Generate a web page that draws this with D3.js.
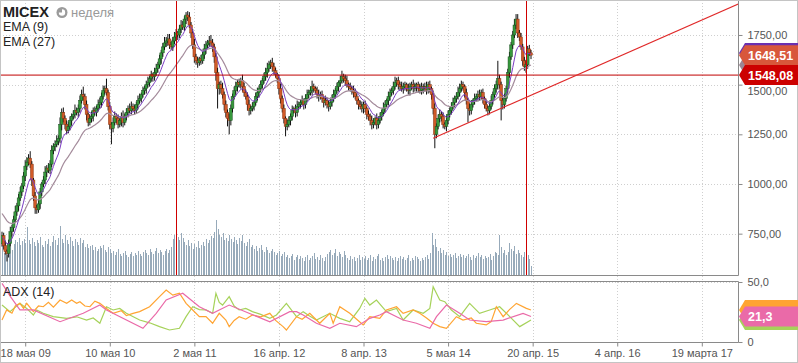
<!DOCTYPE html>
<html>
<head>
<meta charset="utf-8">
<script src="https://cdn.jsdelivr.net/npm/d3@7/dist/d3.min.js"></script>
<style>
  body { margin: 0; background: #fff; }
  svg { display: block; font-family: "Liberation Sans", Arial, sans-serif; }
</style>
</head>
<body>
<svg id="chart" width="798" height="363"></svg>
<script>
// weekly closes, MICEX (index 0 = first visible week)
var closes = [
  740,690,660,650,700,760,780,820,860,890,930,960,990,1040,1090,1110,1130,1100,1020,940,
  880,870,900,960,1000,1020,1060,1080,1070,1100,1170,1190,1200,1215,1230,1300,1360,1330,1300,1270,
  1290,1320,1340,1350,1370,1360,1380,1420,1450,1440,1400,1350,1310,1330,1340,1370,1360,1380,1400,1410,
  1440,1470,1480,1460,1390,1300,1280,1310,1340,1330,1300,1320,1340,1310,1340,1360,1380,1370,1390,1380,
  1370,1400,1420,1430,1450,1470,1480,1500,1510,1530,1550,1540,1560,1580,1600,1630,1660,1690,1710,1720,
  1730,1700,1690,1720,1740,1760,1750,1780,1800,1790,1830,1850,1840,1800,1760,1700,1640,1620,1610,1630,
  1620,1650,1680,1700,1710,1720,1710,1690,1640,1560,1480,1500,1480,1450,1400,1360,1330,1320,1380,1440,
  1470,1490,1510,1500,1520,1490,1460,1440,1400,1370,1380,1390,1410,1440,1460,1480,1500,1520,1540,1560,
  1580,1600,1610,1590,1570,1550,1530,1480,1430,1380,1330,1290,1300,1320,1340,1370,1380,1360,1390,1400,
  1410,1420,1400,1430,1450,1460,1470,1490,1480,1470,1450,1440,1450,1430,1410,1420,1400,1390,1410,1430,
  1450,1470,1490,1510,1520,1540,1530,1520,1500,1490,1480,1470,1460,1440,1420,1400,1390,1380,1400,1380,
  1350,1340,1320,1300,1310,1330,1300,1320,1340,1360,1380,1400,1420,1440,1460,1470,1490,1510,1520,1500,
  1490,1480,1490,1500,1480,1470,1490,1500,1480,1490,1500,1480,1470,1490,1480,1490,1470,1500,1480,1450,
  1380,1250,1290,1330,1350,1340,1300,1290,1320,1350,1370,1390,1410,1430,1440,1460,1480,1500,1490,1460,
  1420,1380,1370,1400,1420,1430,1440,1450,1440,1460,1430,1400,1380,1370,1390,1420,1450,1480,1500,1530,
  1500,1420,1400,1430,1480,1560,1640,1700,1750,1800,1830,1760,1740,1690,1620,1590,1600,1680,1660,1648.51
];
var firstOpen = 700;

// wick lengths above / below the body (points)
var wickUp = [
  20,15,25,10,20,25,15,20,30,15,20,25,15,20,30,25,20,35,15,10,
  20,15,25,20,10,20,30,15,25,20,25,15,20,30,15,35,20,25,15,20,
  25,20,15,20,30,15,20,25,25,40,15,20,10,20,25,15,20,15,25,25,
  20,25,15,50,15,20,10,25,25,15,20,10,20,30,15,20,15,25,25,15,
  20,15,25,25,10,20,15,20,30,15,20,10,25,25,15,20,15,20,30,20,
  25,25,15,20,25,20,10,20,25,20,15,15,20,25,15,20,30,15,20,10,
  20,15,25,20,15,25,30,20,15,20,25,15,20,30,15,20,15,25,20,15,
  20,25,15,20,15,30,20,15,20,25,15,20,10,20,25,15,20,15,20,25,
  30,20,15,25,20,15,10,20,25,15,20,10,25,20,15,25,10,20,30,15,
  15,25,10,20,25,15,20,30,15,10,20,25,15,20,10,25,15,20,25,20,
  25,15,20,10,25,30,15,20,25,10,20,15,25,20,15,10,20,25,15,20,
  10,20,15,25,20,10,25,15,20,15,30,20,10,25,20,15,25,30,15,20,
  15,25,20,15,10,25,20,15,25,20,10,15,25,20,15,20,25,15,20,10,
  20,25,15,20,25,15,20,10,25,20,15,20,25,15,20,30,25,20,15,10,
  20,15,25,20,10,25,15,20,25,15,20,10,25,15,20,25,15,20,20,90,
  20,15,20,25,15,20,25,15,20,30,25,25,15,20,15,20,25,15,20,15
];
var wickDn = [
  15,20,15,40,20,15,25,20,15,20,25,15,20,15,25,20,15,20,30,25,
  30,20,15,25,20,15,20,25,15,20,15,20,25,15,20,25,30,20,25,20,
  15,20,25,15,20,15,25,20,15,20,25,30,20,15,20,25,15,20,15,20,
  25,15,20,15,20,25,80,20,15,25,20,15,30,25,15,20,25,15,20,15,
  20,15,25,15,20,15,20,25,15,20,15,25,20,15,20,15,25,20,15,20,
  25,20,15,20,15,20,25,15,20,15,20,25,20,15,25,20,30,20,25,15,
  20,15,20,25,15,20,15,25,30,40,100,30,25,20,30,25,40,70,25,20,
  15,20,25,15,20,25,20,15,30,25,20,15,20,15,20,25,15,20,15,20,
  25,15,20,25,20,15,20,30,25,20,25,50,20,15,25,20,15,25,20,15,
  20,15,25,20,15,20,15,25,20,15,20,25,15,20,25,15,20,25,15,20,
  15,20,15,25,20,15,20,25,15,20,15,20,25,15,20,25,15,20,25,20,
  25,20,25,25,20,15,25,20,15,20,15,20,15,25,20,15,20,15,20,25,
  20,15,25,20,15,20,25,15,20,15,25,20,15,20,25,15,20,15,20,25,
  30,70,20,15,20,25,20,15,25,20,15,20,15,25,20,15,20,15,20,25,
  20,70,25,20,15,20,15,25,20,15,25,20,15,25,20,15,20,15,20,25,
  20,100,25,20,15,20,25,15,20,15,20,25,20,15,25,20,30,20,15,20
];

// volume (relative units, 0..100)
var volumes = [
  60,44,52,40,48,56,50,62,70,66,74,60,68,72,64,96,70,62,74,66,
  58,70,64,76,60,56,68,62,72,58,66,78,70,60,74,98,72,64,80,70,
  62,76,68,58,72,66,60,74,64,70,56,62,54,58,60,50,56,48,52,58,
  54,60,50,46,56,52,44,48,40,46,52,42,38,44,48,40,36,42,46,38,
  44,40,48,42,38,46,50,44,40,52,46,42,48,54,44,50,46,40,48,52,
  44,50,56,72,80,88,76,70,84,74,66,60,70,58,64,52,62,56,68,54,
  60,66,58,72,64,70,78,74,86,110,92,80,76,84,70,74,68,80,72,66,
  76,70,62,74,68,80,64,58,66,72,56,60,52,58,48,54,60,50,46,56,
  50,44,48,52,46,40,44,48,38,42,46,36,40,34,38,42,30,36,40,32,
  38,34,28,36,40,30,34,38,44,32,36,30,40,34,28,36,42,46,50,40,
  44,52,38,46,42,36,48,40,34,30,38,32,36,28,34,40,30,36,32,38,
  30,34,40,28,36,32,38,42,30,34,28,36,40,32,38,34,30,36,28,34,
  38,32,36,30,34,40,28,34,30,38,36,32,28,34,30,36,40,32,44,84,
  60,72,56,48,54,44,50,40,46,38,42,36,40,44,34,38,42,36,40,34,
  38,42,36,30,40,34,38,44,36,40,32,38,34,36,42,30,38,46,44,40,
  80,56,44,50,40,46,64,52,48,58,42,50,44,40,36,46,38,40,32,18
];

// EMA starting levels read from the left edge
var ema9Seed = 730, ema27Seed = 860;

// ADX (14) lines: [week index, value]
var adxPink = [[0,48.9],[5,38],[10.8,26.7],[18.9,26.7],[35,16.9],[49,23.9],[59,30.8],[63,26.7],[85,11.4],[93,23.9],[99,35],[109,40.6],[119,29.4],[127,23.9],[137,30.8],[161.5,16.9],[173.5,25.3],[177.6,25.3],[181.6,22.5],[189.6,15.6],[197.7,11.4],[203.7,15.6],[213.7,12.8],[221.8,19.7],[227.8,22.5],[231.8,25.3],[241.9,18.3],[249.9,15.6],[258,11.4],[262,21.1],[268,30.8],[276,23.9],[282,18.3],[292,16.9],[302.2,18.3],[314.2,23.9],[319,21.3]];
var adxOrange = [[0,18.3],[2.8,26.7],[6,24],[8,30],[10.8,32.2],[13,28],[14.9,32.2],[18.9,25.3],[22,30],[24.9,29.4],[28,33],[31,29],[35,35],[39,32.2],[42,35],[45,32.2],[47,33.6],[50,30],[53,29.4],[56,34],[59,32.2],[63,28],[67,23.9],[72,26],[75,22],[79,23.9],[83,25.3],[89,29.4],[95,37.8],[99,43.3],[103,39],[107,40.6],[111,32.2],[115,26.7],[119,21.1],[123,21.1],[127,15.6],[131,23.9],[135,18.3],[137,12.8],[140,18],[143,21.1],[147,19],[151,22.5],[156,21],[161.5,23.9],[165,18],[169.5,12.8],[171.5,10],[177.6,21.1],[181,19],[185.6,23.9],[191.6,15.6],[197.7,23.9],[199.7,15.6],[203.7,29.4],[209.7,23.9],[213,20],[217.8,14.2],[221.8,21.1],[227.8,19.7],[231.8,26.7],[237.9,29.4],[241.9,23.9],[247.9,26.7],[251.9,23.9],[256,20],[260,15.6],[264,12.8],[268,11.4],[274,21.1],[278,18.3],[283,20],[286,15.6],[292,14.2],[295,17],[298.1,29.4],[302.2,21.1],[306,27],[310.2,32.2],[316.2,28],[319,26.7]];
var adxGreen = [[0,30.8],[4.8,25.3],[10.8,32.2],[14.9,28],[18.9,22.5],[20.9,26.7],[24.9,23.9],[30.9,21.1],[39,19.7],[45,21],[51,18.3],[55,20],[59,15.6],[63,29.4],[67,26.7],[71,28],[75,23.9],[83,18.3],[89,16],[95,12.8],[101,10],[107,11.4],[111,21.1],[115,29.4],[119,27],[123,26.7],[127,23.9],[129,40.6],[131,33],[133,30.8],[137,37.8],[140,30],[143,26.7],[147,28],[151,25.3],[156,23],[161.5,19.7],[165.5,22.5],[171.5,32.2],[177.6,21.1],[181.6,25.3],[185,22],[189.6,18.3],[197.7,23.9],[203.7,19.7],[209.7,16.9],[215.7,28],[218.8,36.4],[221.8,30.8],[225.8,35],[231.8,25.3],[237.9,28],[241.9,18.3],[247.9,26.7],[254,23.9],[258,28],[260,46],[264,35],[267,33.6],[271,26.7],[276,21.1],[282,32.2],[288,23.9],[294.1,26.7],[300.1,29.4],[306.2,21.1],[312.2,12.8],[319,18.3]];

// axis ticks
var tickIdx = [14,65,116,167,218,269,320,371,422];
var tickLabels = ["18 мая 09","10 мая 10","2 мая 11","16 апр. 12","8 апр. 13","5 мая 14","20 апр. 15","4 апр. 16","19 марта 17"];
var priceTicks = [750,1000,1250,1500,1750];
var adxTicks = [0,50];

// drawings on the chart
var hLevel = 1548.08;
var vMarks = [105,316];
var trendPts = [[260,1230],[444,1906]];

var svg = d3.select("#chart");
var W = 738;

var x = d3.scaleLinear().domain([0, closes.length - 1]).range([2, 531]);
var y = d3.scaleLinear().domain([542, 1926]).range([275, 0]);
var yv = d3.scaleLinear().domain([0, 100]).range([275, 225]);
var ya = d3.scaleLinear().domain([0, 50]).range([342, 282]);

var defs = svg.append("defs");
defs.append("clipPath").attr("id", "clipMain").append("rect").attr("x", 0).attr("y", 0).attr("width", W).attr("height", 275);
defs.append("clipPath").attr("id", "clipAdx").append("rect").attr("x", 0).attr("y", 282).attr("width", W).attr("height", 60);

svg.append("rect").attr("x", 0).attr("y", 0).attr("width", 798).attr("height", 363).attr("fill", "#fff");

// grid
var grid = svg.append("g").attr("stroke", "#cfcfcf").attr("stroke-dasharray", "1,2");
grid.selectAll(".hg").data(priceTicks).enter().append("line")
  .attr("x1", 0).attr("x2", W).attr("y1", function (d) { return Math.round(y(d)) + 0.5; }).attr("y2", function (d) { return Math.round(y(d)) + 0.5; });
grid.selectAll(".vg").data(tickIdx).enter().append("line")
  .attr("x1", function (d) { return Math.round(x(d)) + 0.5; }).attr("x2", function (d) { return Math.round(x(d)) + 0.5; })
  .attr("y1", 0).attr("y2", 342);
grid.append("line").attr("x1", 0).attr("x2", W).attr("y1", Math.round(ya(50)) + 0.5).attr("y2", Math.round(ya(50)) + 0.5);

// volume bars
var main = svg.append("g").attr("clip-path", "url(#clipMain)");
main.selectAll(".vol").data(volumes).enter().append("rect")
  .attr("x", function (d, i) { return Math.round(x(i)); })
  .attr("width", 1)
  .attr("y", function (d) { return yv(d); })
  .attr("height", function (d) { return yv(0) - yv(d); })
  .attr("fill", "#97aaba");

// candles
var candles = closes.map(function (c, i) {
  var o = i === 0 ? firstOpen : closes[i - 1];
  return { i: i, o: o, c: c, h: Math.max(o, c) + wickUp[i], l: Math.min(o, c) - wickDn[i] };
});
var cg = main.selectAll(".candle").data(candles).enter().append("g");
cg.append("line")
  .attr("x1", function (d) { return x(d.i); }).attr("x2", function (d) { return x(d.i); })
  .attr("y1", function (d) { return y(d.h); }).attr("y2", function (d) { return y(d.l); })
  .attr("stroke", "#111").attr("stroke-width", 1);
cg.append("rect")
  .attr("x", function (d) { return x(d.i) - 1.4; })
  .attr("width", 2.8)
  .attr("y", function (d) { return y(Math.max(d.o, d.c)); })
  .attr("height", function (d) { return Math.max(1, Math.abs(y(d.o) - y(d.c))); })
  .attr("fill", function (d) { return d.c >= d.o ? "#36983c" : "#d05a28"; })
  .attr("stroke", function (d) { return d.c >= d.o ? "#1d5222" : "#8a3512"; })
  .attr("stroke-width", 0.5);

// EMA lines
function ema(arr, n, seed) {
  var k = 2 / (n + 1), prev = seed;
  return arr.map(function (v) { prev = prev + k * (v - prev); return prev; });
}
var ema9 = ema(closes, 9, ema9Seed);
var ema27 = ema(closes, 27, ema27Seed);
var lineIdx = d3.line().x(function (d, i) { return x(i); }).y(function (d) { return y(d); });
main.append("path").attr("d", lineIdx(ema27)).attr("fill", "none").attr("stroke", "#a48b9b").attr("stroke-width", 1.2);
main.append("path").attr("d", lineIdx(ema9)).attr("fill", "none").attr("stroke", "#7a3cc2").attr("stroke-width", 1);

// red drawings
main.append("line").attr("x1", 0).attr("x2", W).attr("y1", y(hLevel)).attr("y2", y(hLevel)).attr("stroke", "#c00000").attr("stroke-width", 1);
main.selectAll(".vm").data(vMarks).enter().append("line")
  .attr("x1", function (d) { return Math.round(x(d)) + 0.5; }).attr("x2", function (d) { return Math.round(x(d)) + 0.5; })
  .attr("y1", 0).attr("y2", 275).attr("stroke", "#d00000").attr("stroke-width", 1);
main.append("line")
  .attr("x1", x(trendPts[0][0])).attr("y1", y(trendPts[0][1]))
  .attr("x2", x(trendPts[1][0])).attr("y2", y(trendPts[1][1]))
  .attr("stroke", "#e02828").attr("stroke-width", 1.2);

// ADX panel
var adxG = svg.append("g").attr("clip-path", "url(#clipAdx)");
var lineAdx = d3.line().x(function (d) { return x(d[0]); }).y(function (d) { return ya(d[1]); });
adxG.append("path").attr("d", lineAdx(adxGreen)).attr("fill", "none").attr("stroke", "#a6d25a").attr("stroke-width", 1.2);
adxG.append("path").attr("d", lineAdx(adxOrange)).attr("fill", "none").attr("stroke", "#ffa432").attr("stroke-width", 1.2);
adxG.append("path").attr("d", lineAdx(adxPink)).attr("fill", "none").attr("stroke", "#ea6aa8").attr("stroke-width", 1.2);

// panel frames
var frame = svg.append("g").attr("stroke", "#8a8a8a").attr("stroke-width", 1);
frame.append("line").attr("x1", 0).attr("x2", W).attr("y1", 0.5).attr("y2", 0.5).attr("stroke", "#c4c4c4");
frame.append("line").attr("x1", 0).attr("x2", W + 0.5).attr("y1", 275.5).attr("y2", 275.5);
frame.append("line").attr("x1", 0).attr("x2", W + 0.5).attr("y1", 281.5).attr("y2", 281.5);
frame.append("line").attr("x1", 0).attr("x2", W + 0.5).attr("y1", 342.5).attr("y2", 342.5);
frame.append("line").attr("x1", W + 0.5).attr("x2", W + 0.5).attr("y1", 0).attr("y2", 275.5);
frame.append("line").attr("x1", W + 0.5).attr("x2", W + 0.5).attr("y1", 281.5).attr("y2", 342.5);
svg.append("rect").attr("x", 0.5).attr("y", 0.5).attr("width", 797).attr("height", 362)
  .attr("fill", "none").attr("stroke", "#c4c4c4");

// axes
var comma = function (f) { return function (v) { return d3.format(f)(v).replace(".", ","); }; };
var yAxis = svg.append("g").attr("transform", "translate(" + (W + 0.5) + ",0)")
  .call(d3.axisRight(y).tickValues(priceTicks).tickSize(4).tickPadding(5).tickFormat(comma(".2f")));
var aAxis = svg.append("g").attr("transform", "translate(" + (W + 0.5) + ",0)")
  .call(d3.axisRight(ya).tickValues(adxTicks).tickSize(4).tickPadding(5).tickFormat(function (d) { return d === 0 ? "0" : comma(".1f")(d); }));
var xAxis = svg.append("g").attr("transform", "translate(0,342.5)")
  .call(d3.axisBottom(x).tickValues(tickIdx).tickSize(4).tickPadding(3).tickFormat(function (d, i) { return tickLabels[i]; }));
[yAxis, aAxis, xAxis].forEach(function (a) {
  a.select(".domain").remove();
  a.selectAll(".tick line").attr("stroke", "#8a8a8a");
  a.selectAll(".tick text").attr("fill", "#555").style("font-size", "11px").style("font-family", "'Liberation Sans', Arial, sans-serif");
});
// the 1500 label sits under the price tags in the original; keep it clear of them
yAxis.selectAll(".tick text").filter(function (d) { return d === 1500; }).attr("dy", "0.9em");

// value labels on the right
function tag(val, scale, fill, txt) {
  var cy = scale(val);
  var g = svg.append("g");
  g.append("path")
    .attr("d", "M" + (W + 1) + "," + cy + "L" + (W + 7) + "," + (cy - 10) + "L798," + (cy - 10) + "L798," + (cy + 10) + "L" + (W + 7) + "," + (cy + 10) + "Z")
    .attr("fill", fill);
  if (txt) {
    g.append("text").attr("x", W + 10).attr("y", cy + 4.5).attr("fill", "#fff")
      .style("font-size", "12.5px").style("font-weight", "bold").text(txt);
  }
}
var last = closes.length - 1;
tag(ema27[last], y, "#9c8592", null);
tag(ema9[last] + 4, y, "#6a30b0", null);
tag(closes[last], y, "#d8573b", comma(".2f")(closes[last]));
tag(hLevel, y, "#cc0000", comma(".2f")(hLevel));

var adxLast = adxPink[adxPink.length - 1][1];
tag(adxOrange[adxOrange.length - 1][1], ya, "#ffa432", null);
tag(adxGreen[adxGreen.length - 1][1], ya, "#a6d25a", null);
tag(adxLast, ya, "#ea6aa8", comma(".1f")(adxLast));

// legend
var lg = svg.append("g").attr("fill", "#222");
lg.append("text").attr("x", 3).attr("y", 17).style("font-size", "14.5px").style("font-weight", "bold").text("MICEX");
lg.append("circle").attr("cx", 62).attr("cy", 12.5).attr("r", 5.5).attr("fill", "#9b9b9b");
lg.append("path").attr("transform", "translate(62,12.5)")
  .attr("d", d3.arc()({ innerRadius: 0, outerRadius: 3.2, startAngle: 0, endAngle: Math.PI * 1.5 }))
  .attr("fill", "#fff");
lg.append("text").attr("x", 71).attr("y", 17).attr("fill", "#999").style("font-size", "13px").text("неделя");
lg.append("text").attr("x", 3).attr("y", 31).style("font-size", "12.5px").text("EMA (9)");
lg.append("text").attr("x", 3).attr("y", 46).style("font-size", "12.5px").text("EMA (27)");
lg.append("text").attr("x", 3).attr("y", 296).style("font-size", "12.5px").text("ADX (14)");
</script>
</body>
</html>
